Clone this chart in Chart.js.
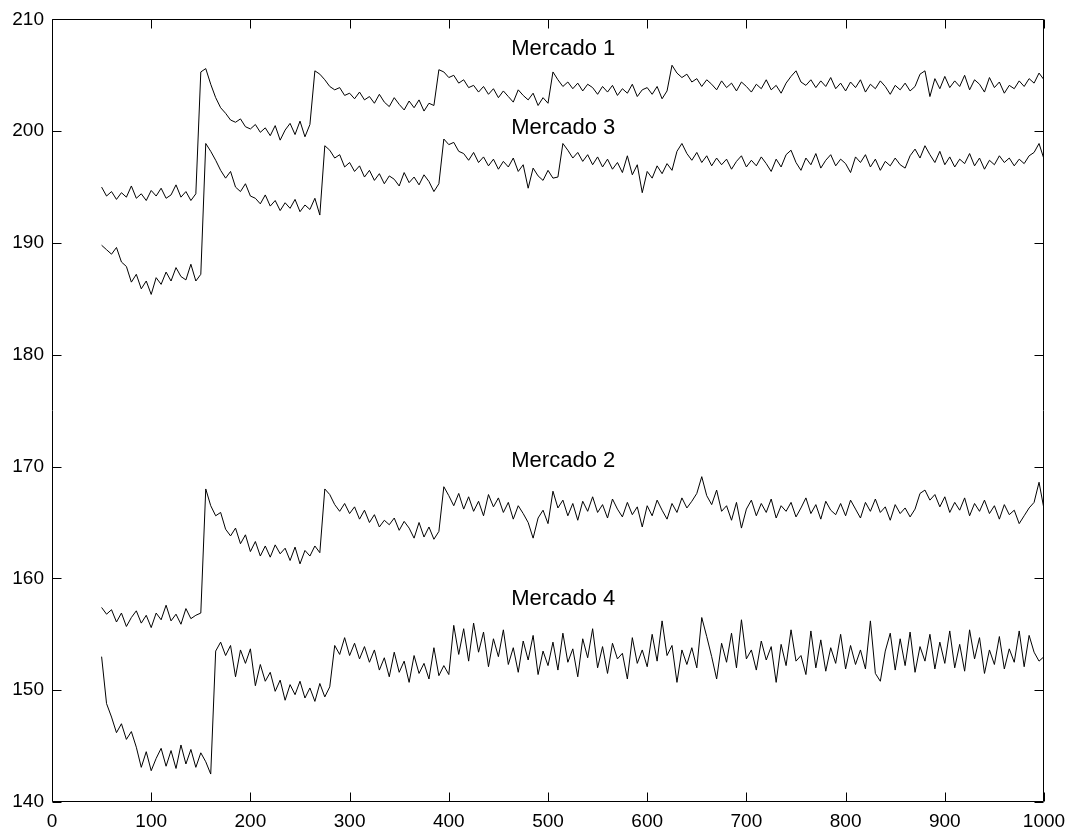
<!DOCTYPE html>
<html>
<head>
<meta charset="utf-8">
<script src="https://cdn.jsdelivr.net/npm/chart.js@4/dist/chart.umd.min.js"></script>
<style>
  html, body { margin: 0; padding: 0; background: #fff; }
  #chart { display: block; }
</style>
</head>
<body>
<canvas id="chart" width="1076" height="832"></canvas>
<script>
// x: one sample every 5 steps, from 50 to 1000
const xStart = 50;
const xStep = 5;

// Mercado 1
const mercado1 = [
  195.0, 194.2, 194.6, 193.9, 194.5, 194.1, 195.1, 194.0, 194.4, 193.8,
  194.7, 194.2, 194.9, 194.0, 194.3, 195.2, 194.1, 194.6, 193.8, 194.4,
  205.3, 205.6, 204.2, 203.0, 202.1, 201.6, 201.0, 200.8, 201.1, 200.4,
  200.2, 200.6, 199.9, 200.3, 199.6, 200.5, 199.2, 200.1, 200.7, 199.7,
  200.9, 199.5, 200.6,
  205.4, 205.1, 204.6, 204.0, 203.7, 203.9, 203.2, 203.4, 202.9, 203.5,
  202.8, 203.1, 202.5, 203.3, 202.6, 202.2, 203.0, 202.4, 201.9, 202.7,
  202.1, 202.8, 201.8, 202.5, 202.3,
  205.5, 205.3, 204.8, 205.0, 204.3, 204.6, 203.9, 204.1, 203.5, 204.0,
  203.3, 203.8, 203.0, 203.6, 203.1, 202.6, 203.7, 203.2, 202.8, 203.4,
  202.3, 203.0, 202.5,
  205.3, 204.6, 204.0, 204.4, 203.8, 204.3, 203.6, 204.2, 203.9, 203.3,
  204.0, 203.5, 204.1, 203.2, 203.8, 203.4, 204.2, 203.1, 203.7, 203.9,
  203.3, 204.0, 202.9, 203.6,
  205.9, 205.2, 204.8, 205.1, 204.4, 204.7, 204.0, 204.6, 204.2, 203.7,
  204.5, 203.9, 204.3, 203.6, 204.4, 204.0, 203.5, 204.2, 203.8, 204.6,
  203.7, 204.1, 203.4, 204.3, 204.9, 205.4, 204.4, 204.1, 204.6, 203.9,
  204.5, 204.0, 204.8, 203.8, 204.3, 203.6, 204.4, 203.9, 204.6, 203.5,
  204.2, 203.8, 204.5, 204.0, 203.3, 204.1, 203.7, 204.3, 203.6, 204.0,
  205.1, 205.4, 203.1, 204.7, 203.8, 204.9, 203.9, 204.5, 204.0, 205.0,
  203.7, 204.6, 204.2, 203.5, 204.8, 203.9, 204.4, 203.4, 204.1, 203.8,
  204.5, 204.0, 204.7, 204.3, 205.2, 204.6
];

// Mercado 3
const mercado3 = [
  189.8, 189.4, 189.0, 189.6, 188.3, 187.9, 186.5, 187.2, 185.9, 186.6,
  185.4, 186.9, 186.3, 187.4, 186.6, 187.8, 187.0, 186.7, 188.1, 186.6,
  187.2, 198.9, 198.2, 197.4, 196.5, 195.8, 196.4, 195.0, 194.6, 195.3,
  194.2, 194.0, 193.5, 194.3, 193.3, 193.8, 192.9, 193.6, 193.1, 193.9,
  192.8, 193.4, 193.0, 194.0, 192.5,
  198.7, 198.3, 197.6, 197.9, 196.8, 197.2, 196.4, 196.9, 195.9, 196.5,
  195.6, 196.2, 195.3, 196.0, 195.7, 195.1, 196.3, 195.4, 195.9, 195.2,
  196.1, 195.5, 194.6, 195.3,
  199.3, 198.8, 199.0, 198.2, 198.0, 197.4, 198.1, 197.2, 197.7, 196.9,
  197.5, 196.6, 197.3, 196.8, 197.6, 196.4, 197.0, 194.9, 196.7, 196.0,
  195.6, 196.5, 195.8,
  195.9, 198.9, 198.3, 197.6, 198.1, 197.3, 197.9, 197.0, 197.7, 196.8,
  197.5, 196.6, 197.2, 196.3, 197.8, 196.1, 197.0, 194.5, 196.4, 195.8,
  196.9, 196.2, 197.1, 196.5, 198.2, 198.9, 198.0, 197.4, 198.1, 197.2,
  197.8, 196.9, 197.6, 197.0, 197.5, 196.6, 197.3, 197.8, 196.8, 197.4,
  196.9, 197.7, 197.1, 196.4, 197.5, 196.8, 197.9, 198.3, 197.2, 196.5,
  197.6, 197.0, 198.0, 196.7, 197.4, 197.9, 196.9, 197.5, 197.1, 196.3,
  197.7, 197.2, 197.9, 196.8, 197.5, 196.5, 197.3, 196.9, 197.6, 197.0,
  196.7, 197.8, 198.4, 197.6, 198.7, 197.9, 197.2, 198.2, 197.0, 197.7,
  196.8, 197.5, 197.1, 198.0, 196.9, 197.6, 196.6, 197.4, 197.0, 197.8,
  197.2, 197.6, 196.9, 197.5, 197.1, 197.8, 198.1, 198.9, 197.5
];

// Mercado 2
const mercado2 = [
  157.4, 156.8, 157.2, 156.1, 156.9, 155.7, 156.5, 157.1, 156.0, 156.7,
  155.6, 156.9, 156.3, 157.6, 156.2, 156.8, 155.9, 157.3, 156.4, 156.7,
  156.9, 168.0, 166.5, 165.6, 165.9, 164.4, 163.8, 164.5, 163.1, 163.9,
  162.4, 163.3, 162.0, 162.9, 161.9, 163.0, 162.2, 162.7, 161.6, 162.8,
  161.3, 162.5, 162.0, 162.9, 162.3,
  168.0, 167.5, 166.6, 166.0, 166.7, 165.8, 166.4, 165.3, 166.1, 165.0,
  165.7, 164.6, 165.2, 164.8, 165.4, 164.3, 165.1, 164.5, 163.6, 165.0,
  163.7, 164.6, 163.5, 164.2,
  168.2, 167.4, 166.5, 167.6, 166.2, 167.3, 166.0, 166.9, 165.6, 167.5,
  166.4, 167.2, 165.9, 166.8, 165.3, 166.5, 165.8, 165.0, 163.6, 165.4,
  166.1, 164.9, 167.8, 166.3, 167.0, 165.6, 166.7, 165.2, 166.9, 166.0,
  167.3, 165.9, 166.6, 165.4, 167.1, 166.2, 165.5, 166.8, 165.7, 166.4,
  164.6, 166.5, 165.6, 167.0, 166.1, 165.3, 166.7, 165.9, 167.2, 166.3,
  166.9, 167.6, 169.1, 167.4, 166.6, 167.9, 166.0, 166.5, 165.2, 166.8,
  164.5, 166.2, 167.0, 165.6, 166.7, 165.9, 167.1, 165.4, 166.5, 166.0,
  166.8, 165.5, 166.3, 167.2, 165.8, 166.6, 165.3, 166.9, 166.1, 165.7,
  166.7, 165.6, 167.0, 166.2, 165.4, 166.8, 166.0, 167.1, 165.9, 166.4,
  165.2, 166.6, 165.8, 166.3, 165.5, 166.2, 167.6, 167.9, 167.0, 167.5,
  166.4, 167.3, 165.9, 166.8, 166.1, 167.2, 165.6, 166.7, 166.0, 167.0,
  165.8, 166.5, 165.3, 166.6, 165.7, 166.1, 164.9, 165.6, 166.3, 166.8,
  168.6, 166.2
];

// Mercado 4
const mercado4 = [
  153.0, 148.8, 147.6, 146.2, 147.0, 145.6, 146.3, 144.9, 143.1, 144.5,
  142.8, 143.9, 144.8, 143.2, 144.6, 143.0, 145.1, 143.4, 144.7, 143.1,
  144.4, 143.6, 142.5,
  153.5, 154.3, 153.1, 154.0, 151.2, 153.6, 152.4, 153.7, 150.4, 152.3,
  150.8, 151.6, 149.9, 150.9, 149.1, 150.5, 149.6, 150.8, 149.3, 150.2,
  149.0, 150.6, 149.4, 150.3,
  154.0, 153.2, 154.7, 153.1, 154.2, 152.8, 153.9, 152.5, 153.6, 151.8,
  152.9, 151.2, 153.4, 151.6, 152.6, 150.7, 153.1, 151.5, 152.4, 151.0,
  153.8, 151.3, 152.2, 151.4,
  155.8, 153.2, 155.5, 152.6, 156.0, 153.4, 155.2, 152.1, 154.6, 153.0,
  155.4, 152.3, 153.8, 151.6, 154.4, 152.7, 154.9, 151.4, 153.5, 152.2,
  154.3, 151.8, 155.1, 152.5, 153.7, 151.2, 154.6, 152.9, 155.5, 152.0,
  153.9, 151.5, 154.2, 152.8, 153.3, 151.0, 154.7, 152.4, 153.6, 152.1,
  155.0, 152.6, 156.2, 153.1, 154.0, 150.7, 153.6, 152.3, 153.8, 152.0,
  156.5, 154.8, 153.0, 151.0, 154.2, 152.5, 155.1, 152.0, 156.3, 152.8,
  153.6, 151.8, 154.4, 152.7, 153.9, 150.7, 154.1, 152.2, 155.4, 152.6,
  153.1, 151.4, 155.3, 152.0, 154.5, 151.7, 153.8, 152.4, 155.0, 151.9,
  154.0, 152.3, 153.6, 151.9, 156.2, 151.5, 150.8, 153.5, 155.1, 151.8,
  154.6, 152.2, 155.2, 151.6, 153.9, 152.6, 155.0, 151.9, 154.3, 152.4,
  155.3, 152.0, 154.1, 151.7, 155.4, 152.8, 154.7, 151.5, 153.6, 152.3,
  154.8, 151.9, 153.7, 152.5, 155.3, 152.1, 154.9, 153.4, 152.6, 153.0
];

// labels written inside the plot (data units)
const labelTexts = ['Mercado 1', 'Mercado 3', 'Mercado 2', 'Mercado 4'];
const labelX = [463, 463, 463, 463];
const labelY = [207.4, 200.3, 170.5, 158.2];

const xMin = 0, xMax = 1000, xTickStep = 100;
const yMin = 140, yMax = 210, yTickStep = 10;

function toPoints(values) {
  return values.map((v, i) => ({ x: xStart + i * xStep, y: v }));
}

const seriesList = [mercado1, mercado3, mercado2, mercado4];

// marco y marcas hacia dentro (estilo MATLAB)
const boxPlugin = {
  id: 'boxTicks',
  afterDraw(chart) {
    const ctx = chart.ctx;
    const { left, right, top, bottom } = chart.chartArea;
    const xs = chart.scales.x;
    const ys = chart.scales.y;
    const L = Math.round(left) + 0.5, R = Math.round(right) - 0.5;
    const T = Math.round(top) + 0.5, B = Math.round(bottom) - 0.5;
    const tl = 9;
    ctx.save();
    ctx.strokeStyle = '#000';
    ctx.lineWidth = 1;
    ctx.beginPath();
    ctx.rect(L, T, R - L, B - T);
    xs.ticks.forEach(t => {
      const px = Math.round(xs.getPixelForValue(t.value)) + 0.5;
      ctx.moveTo(px, B); ctx.lineTo(px, B - tl);
      ctx.moveTo(px, T); ctx.lineTo(px, T + tl);
    });
    ys.ticks.forEach(t => {
      const py = Math.round(ys.getPixelForValue(t.value)) + 0.5;
      ctx.moveTo(L, py); ctx.lineTo(L + tl, py);
      ctx.moveTo(R, py); ctx.lineTo(R - tl, py);
    });
    ctx.stroke();

    ctx.fillStyle = '#000';
    ctx.font = '22px "Liberation Sans", Arial, sans-serif';
    ctx.textAlign = 'left';
    ctx.textBaseline = 'middle';
    labelTexts.forEach((txt, i) => {
      ctx.fillText(txt, xs.getPixelForValue(labelX[i]), ys.getPixelForValue(labelY[i]));
    });
    ctx.restore();
  }
};

const tickFont = { family: '"Liberation Sans", Arial, sans-serif', size: 19 };

new Chart(document.getElementById('chart'), {
  type: 'line',
  data: {
    datasets: seriesList.map((s, i) => ({
      label: labelTexts[i],
      data: toPoints(s),
      borderColor: '#000',
      borderWidth: 1,
      pointRadius: 0,
      tension: 0,
      fill: false
    }))
  },
  options: {
    responsive: false,
    animation: false,
    layout: { padding: { top: 19, right: 32, left: 0, bottom: 0 } },
    plugins: {
      legend: { display: false },
      tooltip: { enabled: false }
    },
    scales: {
      x: {
        type: 'linear',
        min: xMin,
        max: xMax,
        grid: { display: false, drawTicks: false },
        border: { display: false },
        ticks: {
          stepSize: xTickStep, color: '#000', font: tickFont, padding: 8, maxRotation: 0,
          callback: (v) => String(v)
        },
        afterFit: (scale) => { scale.height = 30; }
      },
      y: {
        min: yMin,
        max: yMax,
        grid: { display: false, drawTicks: false },
        border: { display: false },
        ticks: {
          stepSize: yTickStep, color: '#000', font: tickFont, padding: 8,
          callback: (v) => String(v)
        },
        afterFit: (scale) => { scale.width = 52; }
      }
    }
  },
  plugins: [boxPlugin]
});
</script>
</body>
</html>
